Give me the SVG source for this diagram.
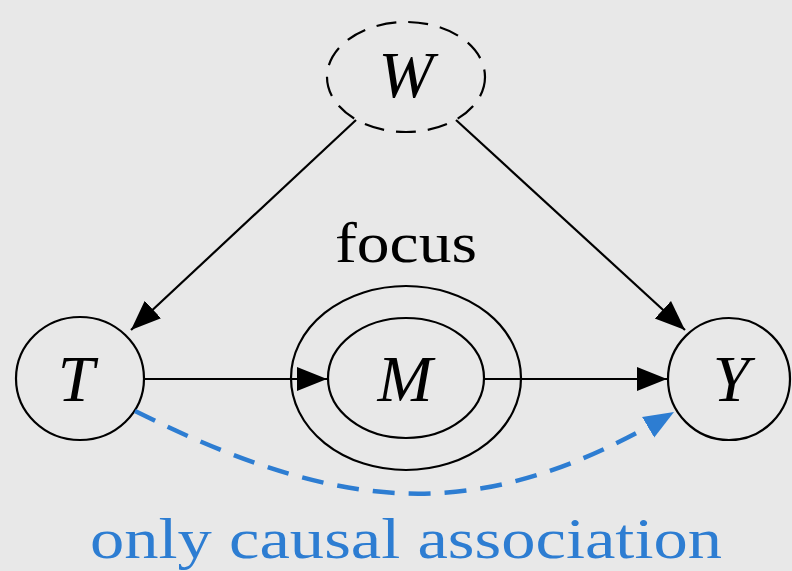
<svg xmlns="http://www.w3.org/2000/svg" width="792" height="571" viewBox="0 0 792 571">
<style>
.n{fill:none;stroke:#000;stroke-width:2.2}
.lbl{font-family:"Liberation Serif",serif;font-style:italic;font-size:66px;text-anchor:middle}
.e{fill:none;stroke:#000;stroke-width:2.2}
</style>
<defs>
<marker id="ah" markerUnits="userSpaceOnUse" markerWidth="34" markerHeight="26" refX="30" refY="12" orient="auto" viewBox="0 0 34 24">
<path d="M0,0 L30,12 L0,24 z" fill="#000"/>
</marker>
<marker id="bh" markerUnits="userSpaceOnUse" markerWidth="34" markerHeight="26" refX="30" refY="12" orient="auto" viewBox="0 0 34 24">
<path d="M0,0 L30,12 L0,24 z" fill="#2d7dd2"/>
</marker>
</defs>
<rect width="792" height="571" fill="#e8e8e8"/>
<g id="W"><ellipse class="n" cx="406" cy="77" rx="79" ry="55" stroke-dasharray="20,12"/><text class="lbl" x="406" y="97">W</text></g>
<g id="T"><ellipse class="n" cx="80" cy="378.5" rx="64" ry="61.5"/><text class="lbl" x="76" y="401">T</text></g>
<g id="M"><ellipse class="n" cx="406" cy="378" rx="115" ry="92"/><ellipse class="n" cx="406" cy="378" rx="78" ry="60"/><text class="lbl" x="405" y="401">M</text>
<text x="406" y="262" font-family="Liberation Serif,serif" font-size="58" text-anchor="middle" textLength="142" lengthAdjust="spacingAndGlyphs">focus</text></g>
<g id="Y"><ellipse class="n" cx="729" cy="379" rx="61" ry="61"/><text class="lbl" x="731" y="401">Y</text></g>
<g id="edges">
<line class="e" x1="356" y1="120" x2="131" y2="330" marker-end="url(#ah)"/>
<line class="e" x1="456" y1="120" x2="685" y2="330" marker-end="url(#ah)"/>
<line class="e" x1="144" y1="379" x2="327" y2="379" marker-end="url(#ah)"/>
<line class="e" x1="484" y1="379" x2="667" y2="379" marker-end="url(#ah)"/>
<path d="M135,411 C355,521 489,521 674,412" fill="none" stroke="#2d7dd2" stroke-width="4.5" stroke-dasharray="22,14" marker-end="url(#bh)"/>
</g>
<text x="406" y="558" font-family="Liberation Serif,serif" font-size="57" fill="#2d7dd2" text-anchor="middle" textLength="632" lengthAdjust="spacingAndGlyphs">only causal association</text>
</svg>
